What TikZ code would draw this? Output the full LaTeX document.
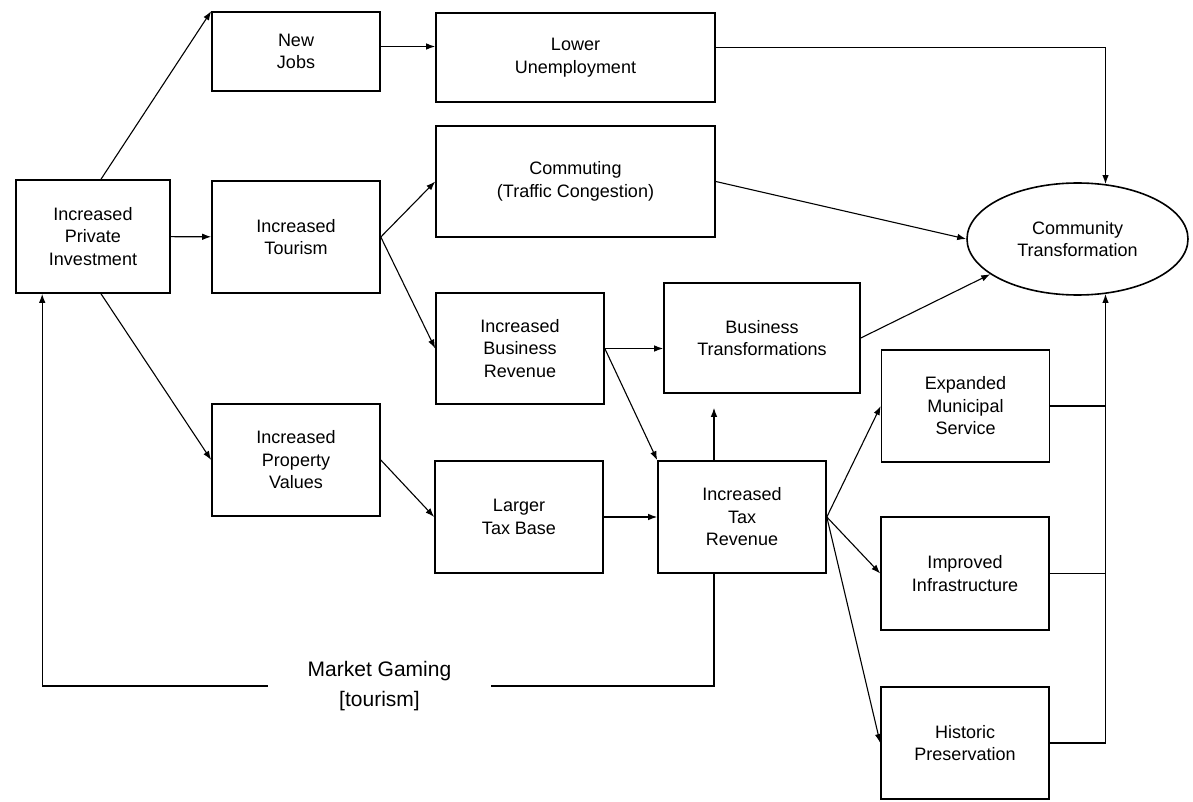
\documentclass[tikz,border=0pt]{standalone}
\usepackage{fontspec}
\setmainfont{Liberation Sans}
\usepackage{tikz}
\usetikzlibrary{positioning,shapes.geometric,arrows.meta}

\begin{document}
\begin{tikzpicture}[x=1pt,y=-1pt,
    box/.style={draw, line width=1.6pt, align=center, inner sep=0pt,
      minimum width=168pt, minimum height=112pt,
      font=\fontsize{18}{22.5}\selectfont},
    link/.style={line width=1.1pt, -{Latex[length=9pt,width=6.5pt]}},
    plain/.style={line width=1.1pt}]
    \useasboundingbox (0,0) rectangle (1193,802);
    % first column and the jobs branch
    \node[box, minimum width=154pt, minimum height=113pt] (inv) at (93,236.5) {Increased\\Private\\Investment};
    \node[box, minimum height=79pt] (jobs) at (296,51.5) {New\\Jobs};
    \node[box] (tour) at (296,237) {Increased\\Tourism};
    \node[box] (prop) at (296,460) {Increased\\Property\\Values};
    % middle columns
    \node[box, minimum width=279pt, minimum height=89pt] (unemp) at (575.5,57.5) {Lower\\Unemployment};
    \node[box, minimum width=279pt, minimum height=111pt] (traffic) at (575.5,181.5) {Commuting\\(Traffic Congestion)};
    \node[box, minimum height=111pt] (bizrev) at (520,348.5) {Increased\\Business\\Revenue};
    \node[box] (taxbase) at (519,517) {Larger\\Tax Base};
    \node[box, minimum width=196pt, minimum height=110pt] (biztr) at (762,338) {Business\\Transformations};
    \node[box] (taxrev) at (742,517) {Increased\\Tax\\Revenue};
    % right column
    \node[box] (muni) at (965.5,406) {Expanded\\Municipal\\Service};
    \node[box, minimum height=113pt] (infra) at (965,573.5) {Improved\\Infrastructure};
    \node[box] (hist) at (965,743) {Historic\\Preservation};
    \node[draw, ellipse, line width=1.6pt, inner sep=0pt, align=center,
      minimum width=221pt, minimum height=112pt,
      font=\fontsize{18}{22.5}\selectfont] (ctrans) at (1077.5,239) {Community\\Transformation};
    \node[align=center, inner sep=0pt, minimum width=223pt,
      font=\fontsize{21}{30}\selectfont] (mkt) at (379.5,686) {Market Gaming\\{[}tourism{]}};

    % connectors
    \draw[link] ([xshift=8pt]inv.north) -- (jobs.north west);
    \draw[link] (inv) -- (tour);
    \draw[link] ([xshift=8pt]inv.south) -- (prop.west);
    \draw[link] ([yshift=5pt]jobs.east) -- ([yshift=5pt]jobs.east -| unemp.west);
    \draw[link] (tour.east) -- (traffic.west);
    \draw[link] (tour.east) -- (bizrev.west);
    \draw[link] (prop.east) -- (taxbase.west);
    \draw[link] (bizrev.east) -- (bizrev.east -| biztr.west);
    \draw[link] (bizrev.east) -- (taxrev.north west);
    \draw[link] (taxbase) -- (taxrev);
    \draw[link, shorten >=14pt] ([xshift=-28pt]taxrev.north) -- ([xshift=-28pt]taxrev.north |- biztr.south);
    \draw[link] (taxrev.east) -- (muni.west);
    \draw[link] (taxrev.east) -- (infra.west);
    \draw[link] (taxrev.east) -- (hist.west);
    % into the community
    \draw[link] ([yshift=10pt]unemp.east) -| (ctrans.63);
    \draw[link] (traffic.east) -- (ctrans.west);
    \draw[link] (biztr.east) -- (ctrans.202);
    \draw[plain] (muni.east) -- (muni.east -| ctrans.-63);
    \draw[plain] (infra.east) -- (infra.east -| ctrans.-63);
    \draw[link] (hist.east) -| (ctrans.-63);
    % feedback loop
    \draw[plain] ([xshift=-28pt]taxrev.south) |- (mkt.east);
    \draw[link] (mkt.west) -| ([xshift=27pt]inv.south west);
\end{tikzpicture}
\end{document}
